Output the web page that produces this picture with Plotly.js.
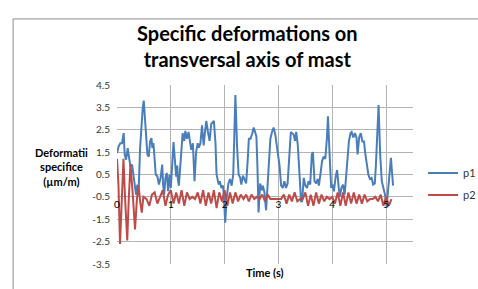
<!DOCTYPE html>
<html>
<head>
<meta charset="utf-8">
<script src="https://cdn.plot.ly/plotly-3.0.1.min.js"></script>
<style>html,body{margin:0;padding:0;background:#fff;}#chart{width:478px;height:289px;}</style>
</head>
<body>
<div id="chart"></div>
<script>
// ---- data ----
const timeP1 = [0,0.031,0.062,0.093,0.124,0.143,0.168,0.199,0.23,0.248,0.28,0.304,0.329,0.354,0.379,0.404,0.429,0.453,0.478,0.497,0.516,0.54,0.565,0.59,0.615,0.64,0.658,0.677,0.696,0.72,0.75,0.78,0.81,0.84,0.857,0.876,0.9,0.925,0.95,0.975,
1.00,1.02,1.05,1.08,1.10,1.12,1.13,1.15,1.17,1.19,1.22,1.25,1.27,1.30,1.33,1.36,1.38,1.41,1.44,1.47,1.50,1.52,1.55,1.58,1.61,1.64,1.66,1.69,1.72,1.75,1.77,1.80,1.83,1.85,1.89,1.91,1.94,1.97,1.99,
2.01,2.04,2.07,2.10,2.13,2.16,2.17,2.20,2.23,2.26,2.29,2.31,2.34,2.37,2.40,2.43,2.45,2.48,2.51,2.54,2.57,2.59,2.61,2.63,2.66,2.69,2.71,2.74,2.77,2.80,2.83,2.85,2.88,2.91,2.94,2.96,2.99,
3.02,3.05,3.08,3.11,3.14,3.17,3.20,3.23,3.25,3.28,3.31,3.33,3.36,3.39,3.42,3.44,3.47,3.50,3.53,3.56,3.59,3.62,3.64,3.67,3.70,3.73,3.75,3.78,3.81,3.84,3.87,3.90,3.92,3.95,3.98,
4.01,4.03,4.06,4.09,4.12,4.14,4.17,4.20,4.23,4.26,4.28,4.31,4.34,4.36,4.39,4.42,4.45,4.47,4.50,4.53,4.56,4.59,4.61,4.64,4.67,4.70,4.73,4.76,4.79,4.81,4.84,4.86,4.89,4.92,4.95,4.98,
5.01,5.03,5.06,5.09,5.11,5.13];
const p1 = [1.46,1.76,1.9,1.9,2.35,1.39,1.16,1.68,1.16,0.87,0.94,0.49,-0.1,-0.4,0.05,-0.1,1.68,2.73,3.47,3.8,3.0,1.98,1.39,1.3,1.98,2.13,1.68,1.9,1.24,0.49,0.42,0.05,0.35,0.94,0.05,-0.4,0.35,0.57,-0.25,0.49,
-0.1,0.9,1.95,1.0,0.4,0.9,0.3,0.0,0.7,1.6,2.35,2.0,2.45,2.1,2.4,1.9,1.6,1.9,0.2,1.5,1.9,1.7,1.9,2.7,1.8,2.5,2.9,2.4,2.0,2.75,2.8,2.9,1.9,0.5,0.05,0.2,-0.1,0.0,-0.6,
-1.65,-0.5,0.1,0.3,0.0,0.5,1.5,4.05,1.8,0.5,0.35,0.05,0.45,0.3,0.1,1.2,2.1,2.1,2.3,2.6,2.3,2.2,0.8,-1.2,0.1,-0.2,0.0,-0.3,-1.1,0.2,1.5,2.1,2.4,2.6,2.3,1.9,1.5,
0.9,0.0,-0.1,0.2,-0.1,0.1,1.4,2.4,2.35,2.3,2.0,2.4,1.8,0.5,-0.7,-0.7,0.35,0.0,-0.1,0.2,0.05,1.4,1.5,0.2,0.1,0.3,0.0,0.5,1.1,1.3,1.2,2.1,3.1,1.4,-0.1,
0.05,-0.25,0.35,0.7,-0.1,-0.5,-0.1,0.05,-0.4,0.5,1.5,2.0,2.35,2.4,2.15,2.35,2.15,1.4,2.15,2.35,1.98,1.98,1.5,1.0,0.5,0.3,0.35,0.05,0.1,0.9,2.5,3.6,1.4,0.2,-0.1,-0.4,
-0.95,-0.4,0.5,1.25,0.6,0.0];

const timeP2 = [0,0.028,0.056,0.093,0.12,0.149,0.19,0.22,0.25,0.29,0.335,0.37,0.40,0.43,0.46,0.49,
0.55,0.60,0.65,0.70,0.75,0.80,0.85,0.90,0.95,1.00,1.05,1.10,1.15,1.20,1.25,1.30,1.35,1.40,1.45,1.50,1.55,1.60,1.65,1.70,1.75,1.80,1.85,1.90,1.95,
2.00,2.05,2.10,2.15,2.20,2.25,2.30,2.35,2.40,2.45,2.50,2.55,2.60,2.65,2.70,2.75,2.80,2.85,2.90,2.95,
3.00,3.05,3.10,3.15,3.20,3.25,3.30,3.35,3.40,3.45,3.50,3.55,3.60,3.65,3.70,3.75,3.80,3.85,3.90,3.95,
4.00,4.05,4.10,4.15,4.20,4.25,4.30,4.35,4.40,4.45,4.50,4.55,4.60,4.65,4.70,4.75,4.80,4.85,4.90,4.95,
5.00,5.05,5.10];
const p2 = [1.2,0.0,-2.6,-0.5,1.2,-0.5,-2.45,-0.5,0.95,-0.3,-1.95,-0.6,0.0,-0.7,-1.2,-0.5,
-0.6,-0.9,-0.4,-0.3,-0.8,-0.5,-0.2,-0.9,-0.4,-0.2,-0.8,-0.3,-0.8,-0.2,-0.9,-0.3,-0.6,-0.5,-0.6,-0.3,-0.8,-0.2,-0.9,-0.3,-0.8,-0.2,-1.0,-0.3,-0.7,
-0.2,-0.9,-0.3,-0.8,-0.3,-0.7,-0.4,-0.6,-0.4,-0.7,-0.4,-0.6,-0.5,-0.6,-0.4,-0.7,-0.4,-0.6,-0.6,-0.6,
-0.6,-0.6,-0.4,-0.8,-0.4,-0.7,-0.3,-0.7,-0.6,-0.6,-0.3,-0.9,-0.4,-0.9,-0.3,-0.8,-0.4,-0.7,-0.5,-0.6,
-0.5,-0.8,-0.3,-0.9,-0.3,-0.9,-0.3,-0.8,-0.3,-0.8,-0.4,-0.8,-0.4,-0.7,-0.6,-0.6,-0.5,-0.7,-0.4,-0.9,
-0.5,-0.9,-0.6];

const yTickVals = [4.5,3.5,2.5,1.5,0.5,-0.5,-1.5,-2.5,-3.5];
const yTickText = ["4.5","3.5","2.5","1.5","0.5","-0.5","-1.5","-2.5","-3.5"];
const xTickVals = [0,1,2,3,4,5];
const xTickText = ["0","1","2","3","4","5"];
const seriesNames = ["p1","p2"];
const chartTitle = "Specific deformations on<br>transversal axis of mast";
const yTitle = "Deformatii<br>specifice<br>(µm/m)";
const xTitle = "Time (s)";

const FONT = "Lato, 'Open Sans', sans-serif";
const traces = [
  {x: timeP1, y: p1, name: seriesNames[0], legendgroup: 'g1', type: 'scatter', mode: 'lines',
   line: {color: '#4a7ebb', width: 2}},
  {x: timeP2, y: p2, name: seriesNames[1], legendgroup: 'g2', type: 'scatter', mode: 'lines',
   line: {color: '#be4b48', width: 2}}
];

const layout = {
  width: 478, height: 289,
  margin: {l: 117, r: 65, t: 85, b: 25, autoexpand: false},
  paper_bgcolor: '#ffffff', plot_bgcolor: '#ffffff',
  font: {family: FONT, size: 10, color: '#333333'},
  showlegend: true,
  legend: {x: 1.034, xanchor: 'left', y: 0.59, yanchor: 'top', font: {size: 11, color: '#333'},
           tracegroupgap: 3, itemwidth: 30, bgcolor: 'rgba(0,0,0,0)', borderwidth: 0},
  xaxis: {range: [0, 5.5], tickvals: xTickVals, ticktext: xTickText, showgrid: true,
          gridcolor: '#b3b3b3', gridwidth: 1, zeroline: false, showline: false,
          anchor: 'free', position: 0.375, ticks: '',
          tickfont: {size: 10, color: '#000'}},
  yaxis: {range: [-3.5, 4.5], tickvals: yTickVals, ticktext: yTickText, showgrid: true,
          gridcolor: '#b3b3b3', gridwidth: 1, zeroline: false, showline: false,
          ticks: '', ticklabelstandoff: 6, tickfont: {size: 10, color: '#333'}},
  shapes: [
    {type: 'rect', xref: 'paper', yref: 'paper', x0: -0.351, x1: 1.25, y0: -0.2, y1: 1.369,
     line: {color: '#8c8c8c', width: 1}, layer: 'below'}
  ],
  annotations: [
    {text: '<b>' + chartTitle + '</b>', xref: 'paper', yref: 'paper', x: 0.44, y: 1.22,
     xanchor: 'center', yanchor: 'middle', showarrow: false,
     font: {family: FONT, size: 20, color: '#000'}},
    {text: '<b>' + yTitle + '</b>', xref: 'paper', yref: 'paper', x: -0.186, y: 0.54,
     xanchor: 'center', yanchor: 'middle', showarrow: false, font: {size: 11, color: '#000'}},
    {text: '<b>' + xTitle + '</b>', xref: 'paper', yref: 'paper', x: 0.5, y: -0.045,
     xanchor: 'center', yanchor: 'middle', showarrow: false, font: {size: 11, color: '#000'}}
  ]
};

Plotly.newPlot('chart', traces, layout, {displayModeBar: false, staticPlot: true});
</script>
</body>
</html>
